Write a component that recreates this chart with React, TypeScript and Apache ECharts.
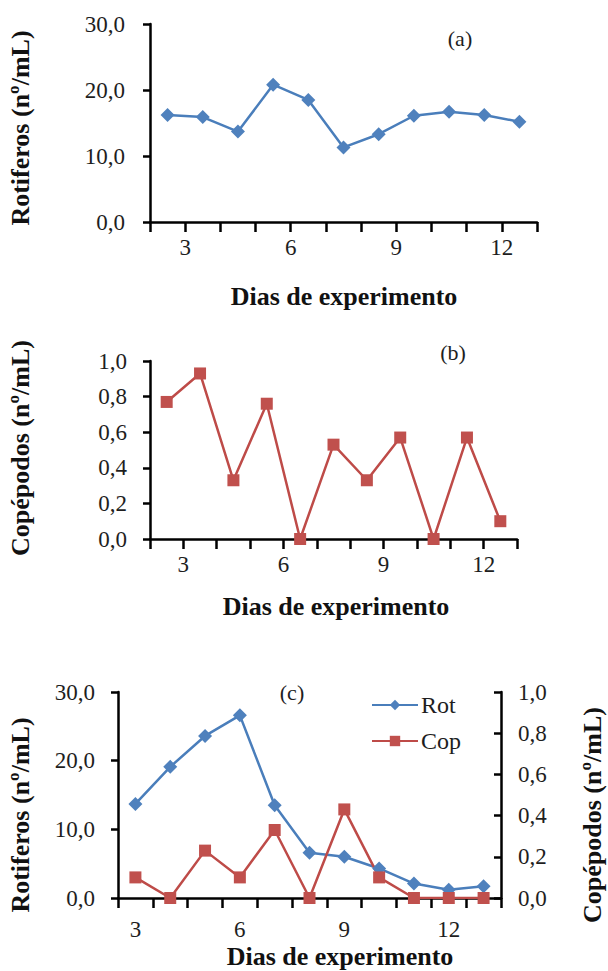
import React, { useEffect, useRef } from "react";
import * as echarts from "echarts";

// (a) rotifer density, (b) copepod density — sampled mid-day
const diasAB = [2.5, 3.5, 4.5, 5.5, 6.5, 7.5, 8.5, 9.5, 10.5, 11.5, 12.5];
const rotiferosA = [16.2, 15.9, 13.7, 20.8, 18.5, 11.3, 13.3, 16.1, 16.7, 16.2, 15.2];
const copepodosB = [0.77, 0.93, 0.33, 0.76, 0.0, 0.53, 0.33, 0.57, 0.0, 0.57, 0.1];

// (c) rotifers and copepods together
const diasC = ["3", "4", "5", "6", "7", "8", "9", "10", "11", "12", "13"];
const rotiferosC = [13.7, 19.1, 23.6, 26.6, 13.5, 6.6, 6.0, 4.3, 2.1, 1.2, 1.7];
const copepodosC = [0.1, 0.0, 0.23, 0.1, 0.33, 0.0, 0.43, 0.1, 0.0, 0.0, 0.0];

const xTickLabels = [3, 6, 9, 12];

const SERIF = "Liberation Serif";
const BLUE_LINE = "#4A7EBB";
const BLUE_MARK = "#4F81BD";
const RED_LINE = "#BE4B48";
const RED_MARK = "#C0504D";
const TEXT = "#1e1e1e";

const fmt1 = (v: number) => Number(v).toFixed(1).replace(".", ",");

const axisLine = { show: true, lineStyle: { color: "#000", width: 2.5 } };

function valueXAxis(gridIndex: number) {
  return {
    type: "value",
    gridIndex,
    min: 2,
    max: 13,
    interval: 1,
    axisLine,
    axisTick: { show: true, length: 10, lineStyle: { color: "#000", width: 2.5 } },
    splitLine: { show: false },
    axisLabel: {
      margin: 14,
      fontFamily: SERIF,
      fontSize: 23,
      color: TEXT,
      formatter: (v: number) => (xTickLabels.includes(v) ? String(v) : ""),
    },
  };
}

function valueYAxis(gridIndex: number, max: number, interval: number, position = "left", margin = 24) {
  return {
    type: "value",
    gridIndex,
    position,
    min: 0,
    max,
    interval,
    axisLine,
    axisTick: {
      show: true,
      length: 7,
      inside: position === "right",
      lineStyle: { color: "#000", width: 2.5 },
    },
    splitLine: { show: false },
    axisLabel: {
      margin,
      fontFamily: SERIF,
      fontSize: 23,
      color: TEXT,
      formatter: fmt1,
    },
  };
}

function titleText(text: string, x: number, y: number, vertical = false) {
  return {
    type: "text",
    x,
    y,
    rotation: vertical ? Math.PI / 2 : 0,
    style: {
      text,
      fontFamily: SERIF,
      fontWeight: "bold",
      fontSize: 26,
      fill: "#111",
      textAlign: "center",
      textVerticalAlign: "middle",
    },
  };
}

function tagText(text: string, x: number, y: number) {
  return {
    type: "text",
    x,
    y,
    style: {
      text,
      fontFamily: SERIF,
      fontSize: 22,
      fill: TEXT,
      textAlign: "center",
      textVerticalAlign: "middle",
    },
  };
}

export default function App() {
  const ref = useRef<HTMLDivElement>(null);

  useEffect(() => {
    if (!ref.current) return;
    const chart = echarts.init(ref.current, null, { renderer: "svg" });

    const blueSeries = {
      type: "line",
      symbol: "diamond",
      symbolSize: 14,
      lineStyle: { color: BLUE_LINE, width: 2.5 },
      itemStyle: { color: BLUE_MARK },
    };
    const redSeries = {
      type: "line",
      symbol: "rect",
      symbolSize: 12,
      lineStyle: { color: RED_LINE, width: 2.5 },
      itemStyle: { color: RED_MARK },
    };

    chart.setOption({
      animation: false,
      backgroundColor: "#fff",
      grid: [
        { left: 150, top: 24, width: 387, height: 198 },
        { left: 150, top: 361, width: 367, height: 178 },
        { left: 118, top: 692, width: 383, height: 206 },
      ],
      xAxis: [
        valueXAxis(0),
        valueXAxis(1),
        {
          type: "category",
          gridIndex: 2,
          data: diasC,
          boundaryGap: true,
          axisLine,
          axisTick: { show: true, interval: 0, length: 10, lineStyle: { color: "#000", width: 2.5 } },
          axisLabel: {
            interval: 2,
            margin: 20,
            fontFamily: SERIF,
            fontSize: 23,
            color: TEXT,
          },
        },
      ],
      yAxis: [
        valueYAxis(0, 30, 10, "left", 25),
        valueYAxis(1, 1, 0.2, "left", 23),
        valueYAxis(2, 30, 10, "left", 23),
        valueYAxis(2, 1, 0.2, "right", 17),
      ],
      legend: {
        orient: "vertical",
        left: 366,
        top: 688,
        itemWidth: 46,
        itemHeight: 13,
        itemGap: 12,
        textStyle: { fontFamily: SERIF, fontSize: 24, color: TEXT, padding: [0, 0, 0, -2] },
        data: ["Rot", "Cop"],
      },
      graphic: [
        titleText("Rotiferos (nº/mL)", 20, 128, true),
        titleText("Dias de experimento", 344, 296),
        titleText("Copépodos (nº/mL)", 20, 448, true),
        titleText("Dias de experimento", 336, 606),
        titleText("Rotiferos (nº/mL)", 20, 815, true),
        titleText("Copépodos (nº/mL)", 592, 815, true),
        titleText("Dias de experimento", 340, 956),
        tagText("(a)", 460, 38),
        tagText("(b)", 453, 352),
        tagText("(c)", 292, 692),
      ],
      series: [
        {
          ...blueSeries,
          name: "Rotíferos (a)",
          xAxisIndex: 0,
          yAxisIndex: 0,
          data: diasAB.map((d, i) => [d, rotiferosA[i]]),
        },
        {
          ...redSeries,
          name: "Copépodos (b)",
          xAxisIndex: 1,
          yAxisIndex: 1,
          data: diasAB.map((d, i) => [d, copepodosB[i]]),
        },
        {
          ...blueSeries,
          name: "Rot",
          xAxisIndex: 2,
          yAxisIndex: 2,
          data: rotiferosC,
        },
        {
          ...redSeries,
          name: "Cop",
          xAxisIndex: 2,
          yAxisIndex: 3,
          data: copepodosC,
        },
      ],
    });

    return () => chart.dispose();
  }, []);

  return (
    <div
      ref={ref}
      style={{ position: "absolute", left: 0, top: 0, width: 608, height: 971, background: "#fff" }}
    />
  );
}
